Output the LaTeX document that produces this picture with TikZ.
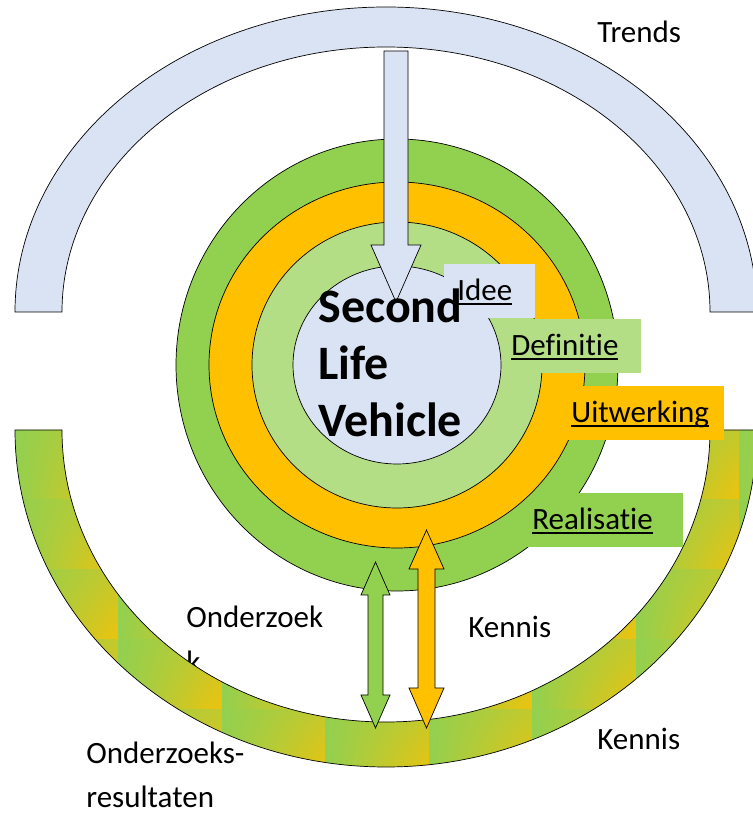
\documentclass[tikz,border=0pt]{standalone}
\usepackage{fontspec}
\setmainfont{Carlito}[Ligatures=NoCommon]
\usepackage{tikz}
\usetikzlibrary{shadings}
\definecolor{lichtblauw}{HTML}{DAE3F3}
\definecolor{groen}{HTML}{92D050}
\definecolor{lichtgroen}{HTML}{B4DE86}
\definecolor{oranje}{HTML}{FFC000}
\newcommand{\ondr}[1]{\setbox0\hbox{#1}\rlap{\rule[-5pt]{\wd0}{2pt}}\box0}

\begin{document}
\begin{tikzpicture}[x=1pt, y=1pt, line width=0.7pt,
  every node/.style={font=\fontsize{31}{45}\selectfont, inner sep=0pt},
  tekst/.style={anchor=base west, align=left},
  lbl/.style={anchor=north west, minimum height=54, text height=23, text depth=5, align=left}]
\useasboundingbox (0,0) rectangle (753,815);
\coordinate (tc) at (386,503);
\coordinate (oc) at (386,385);
\coordinate (mc) at (397,450);

 \filldraw[fill=lichtblauw] (15,503) arc[start angle=180, end angle=0, x radius=371, y radius=305]
   -- (710,503) arc[start angle=0, end angle=180, x radius=324, y radius=265] -- cycle;

 \node[tekst] (onderzoek) at (186,142) {Onderzoek\\k};

 \begin{scope}
 \clip (15,385) arc[start angle=180, end angle=360, x radius=371, y radius=337]
   -- (710,385) arc[start angle=0, end angle=-180, x radius=324, y radius=292] -- cycle;
 \foreach \i in {0,...,7}
  \foreach \j in {0,...,5}
   \shade[upper left=groen, lower left=groen, upper right=groen!55!oranje, lower right=oranje!85!groen]
     ({15+103.5*\i},{385-70*(\j+1)}) rectangle ({15+103.5*(\i+1)},{385-70*\j});
 \end{scope}
 \draw (15,385) arc[start angle=180, end angle=360, x radius=371, y radius=337]
   -- (710,385) arc[start angle=0, end angle=-180, x radius=324, y radius=292] -- cycle;

 \filldraw[fill=groen] (mc) ellipse[x radius=221, y radius=226];
 \node[lbl, fill=groen, minimum width=162, text width=140, inner xsep=11] (realisatie) at (521,322) {\ondr{Realisatie}};
 \filldraw[fill=oranje] (mc) ellipse[x radius=188, y radius=183];
 \node[lbl, fill=oranje, minimum width=162, text width=144, inner xsep=9] (uitwerking) at (562,429) {\ondr{Uitwerking}};
 \filldraw[fill=lichtgroen] (mc) ellipse[x radius=145, y radius=143];
 \node[lbl, fill=lichtgroen, minimum width=152, text width=108, inner xsep=22] (definitie) at (489,496) {\ondr{Definitie}};
 \filldraw[fill=lichtblauw] (mc) ellipse[x radius=104, y radius=99];
 \node[lbl, fill=lichtblauw, minimum width=91, text width=65, inner xsep=13] (idee) at (444,551) {\ondr{Idee}};

 \filldraw[fill=lichtblauw] (384,764) -- (408,764) -- (408,570) -- (421,570) -- (396,513)
   -- (371,570) -- (384,570) -- cycle;

 \filldraw[fill=groen] (375.5,253) -- (390,220) -- (383,220) -- (383,120) -- (390,120) -- (375.5,87)
   -- (361,120) -- (368,120) -- (368,220) -- (361,220) -- cycle;
 \filldraw[fill=oranje] (426.5,285) -- (444,246) -- (435,246) -- (435,127) -- (444,127) -- (426.5,87)
   -- (409,127) -- (418,127) -- (418,246) -- (409,246) -- cycle;

 \node[tekst, font=\bfseries\fontsize{48}{57}\selectfont] (slv) at (318,378) {Second\\Life\\Vehicle};
 \node[tekst] (trends) at (597,772) {Trends};
 \node[tekst] (kennis) at (468,177) {Kennis};
 \node[tekst] (kennisring) at (597,65) {Kennis};
 \node[tekst] (resultaten) at (86,7) {Onderzoeks-\\resultaten};
\end{tikzpicture}
\end{document}
